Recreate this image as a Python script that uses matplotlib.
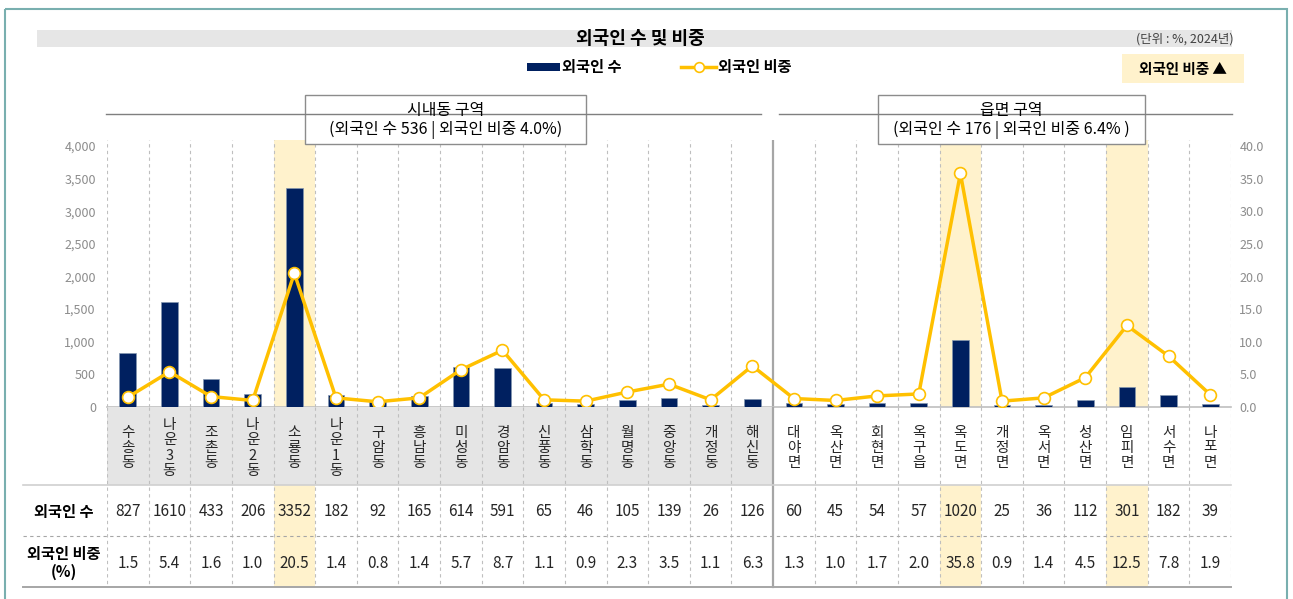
import matplotlib.pyplot as plt
from matplotlib.patches import Rectangle
from matplotlib.lines import Line2D
import numpy as np

plt.rcParams['font.family'] = ['Noto Sans CJK KR', 'DejaVu Sans']

# data
names = ['수송동', '나운3동', '조촌동', '나운2동', '소룡동', '나운1동', '구암동', '흥남동',
         '미성동', '경암동', '신풍동', '삼학동', '월명동', '중앙동', '개정동', '해신동',
         '대야면', '옥산면', '회현면', '옥구읍', '옥도면', '개정면', '옥서면', '성산면',
         '임피면', '서수면', '나포면']
counts = [827, 1610, 433, 206, 3352, 182, 92, 165, 614, 591, 65, 46, 105, 139, 26, 126,
          60, 45, 54, 57, 1020, 25, 36, 112, 301, 182, 39]
ratio = [1.5, 5.4, 1.6, 1.0, 20.5, 1.4, 0.8, 1.4, 5.7, 8.7, 1.1, 0.9, 2.3, 3.5, 1.1, 6.3,
         1.3, 1.0, 1.7, 2.0, 35.8, 0.9, 1.4, 4.5, 12.5, 7.8, 1.9]
highlight = ['소룡동', '옥도면', '임피면']
n_city = 16  # 시내동 count

NAVY = '#002060'
GOLD = '#FFC000'
HL = '#FFF2CC'
GRID = '#BFBFBF'

W, H = 1293, 599
fig = plt.figure(figsize=(W / 100, H / 100), dpi=100)


def fax(l, t, r, b):
    return fig.add_axes([l / W, 1 - b / H, (r - l) / W, (b - t) / H])


x = np.arange(len(names))
hl_idx = [names.index(h) for h in highlight]

# main plot
ax = fax(107, 140, 1231, 407)
for i in hl_idx:
    ax.axvspan(i - 0.5, i + 0.5, color=HL, zorder=0, lw=0)
for b in np.arange(-0.5, len(names), 1.0):
    if b == n_city - 0.5:
        ax.axvline(b, color='#A6A6A6', lw=1.6, zorder=1)
    else:
        ax.axvline(b, color=GRID, lw=0.8, ls=(0, (3, 3)), zorder=1)
ax.bar(x, counts, width=0.4, color=NAVY, edgecolor='#8497B0', linewidth=0.5, zorder=3)
ax.set_xlim(-0.5, len(names) - 0.5)
ax.set_ylim(0, 4000 * 267 / 261)
ax.set_yticks(range(0, 4001, 500))
ax.set_yticklabels([f'{v:,}' for v in range(0, 4001, 500)], color='#8C8C8C', fontsize=9)
ax.set_xticks([])
ax.tick_params(axis='y', length=0, pad=8)
for s in ['top', 'left', 'right']:
    ax.spines[s].set_visible(False)
ax.spines['bottom'].set_color(GRID)
ax.spines['bottom'].set_linewidth(1.2)

ax2 = ax.twinx()
ax2.plot(x, ratio, color=GOLD, lw=2.5, marker='o', markersize=8.5,
         markerfacecolor='white', markeredgecolor=GOLD, markeredgewidth=1.2, zorder=5)
ax2.set_ylim(0, 40 * 267 / 261)
ax2.set_yticks(np.arange(0, 40.1, 5))
ax2.set_yticklabels([f'{v:.1f}' for v in np.arange(0, 40.1, 5)], color='#8C8C8C', fontsize=9)
ax2.tick_params(axis='y', length=0, pad=6)
for s in ['top', 'left', 'right', 'bottom']:
    ax2.spines[s].set_visible(False)

# label + table area
tax = fax(107, 407, 1231, 590)
tax.set_xlim(-0.5, len(names) - 0.5)
tax.set_ylim(183, 0)
tax.axis('off')
left_x = -0.5 - 84 / 41.63
lab_x = -0.5 - 43 / 41.63
tax.add_patch(Rectangle((-0.5, 0), n_city, 78, color='#E5E5E5', lw=0, zorder=0))
for i in hl_idx:
    tax.add_patch(Rectangle((i - 0.5, 78), 1, 102, color=HL, lw=0, zorder=0))
for b in np.arange(-0.5, len(names), 1.0):
    if b == n_city - 0.5:
        tax.plot([b, b], [0, 180], color='#A6A6A6', lw=1.6, zorder=1)
    else:
        tax.plot([b, b], [0, 180], color=GRID, lw=0.8, ls=(0, (3, 3)), zorder=1)
tax.plot([left_x, len(names) - 0.5], [78, 78], color='#D0D0D0', lw=1.2, clip_on=False)
tax.plot([left_x, len(names) - 0.5], [129, 129], color='#A6A6A6', lw=0.8,
         ls=(0, (3, 3)), clip_on=False)
tax.plot([left_x, len(names) - 0.5], [180, 180], color='#A6A6A6', lw=1.4, clip_on=False)

for i, nm in enumerate(names):
    tax.text(i, 41, '\n'.join(nm), ha='center', va='center', fontsize=10.5,
             linespacing=1.12, color='#262626')
    tax.text(i, 105, str(counts[i]), ha='center', va='center', fontsize=11, color='#262626')
    tax.text(i, 156, f'{ratio[i]:.1f}', ha='center', va='center', fontsize=11, color='#262626')
tax.text(lab_x, 105, '외국인 수', ha='center', va='center', fontsize=11,
         fontweight='bold', clip_on=False)
tax.text(lab_x, 156, '외국인 비중\n(%)', ha='center', va='center', fontsize=11,
         fontweight='bold', linespacing=1.2, clip_on=False)

# overlay in pixel coordinates
ov = fig.add_axes([0, 0, 1, 1], zorder=10)
ov.set_xlim(0, W)
ov.set_ylim(H, 0)
ov.axis('off')
ov.patch.set_alpha(0)

ov.add_patch(Rectangle((5, 9), 1282, 640, fill=False, edgecolor='#79AFAF', lw=1.5))
ov.add_patch(Rectangle((37, 30), 1195, 17, color='#E6E6E6', lw=0))
ov.text(640, 38.5, '외국인 수 및 비중', ha='center', va='center', fontsize=13, fontweight='bold')
ov.text(1234, 39, '(단위 : %, 2024년)', ha='right', va='center', fontsize=9, color='#404040')

# legend
ov.add_patch(Rectangle((527, 63), 33, 8, color=NAVY, lw=0))
ov.text(562, 67, '외국인 수', ha='left', va='center', fontsize=11, fontweight='bold')
ov.add_line(Line2D([681, 716], [67, 67], color=GOLD, lw=2.5))
ov.plot([698.5], [67], marker='o', markersize=7, markerfacecolor='white',
        markeredgecolor=GOLD, markeredgewidth=1.2)
ov.text(718, 67, '외국인 비중', ha='left', va='center', fontsize=11, fontweight='bold')

ov.add_patch(Rectangle((1122, 54), 122, 29, color=HL, lw=0))
ov.text(1183, 69, '외국인 비중 ▲', ha='center', va='center', fontsize=10.5, fontweight='bold')

# group headers
ov.add_line(Line2D([106, 761], [114, 114], color='#7F7F7F', lw=1))
ov.add_line(Line2D([779, 1232], [114, 114], color='#7F7F7F', lw=1))
for (l, r, t1, t2) in [(305, 586, '시내동 구역', '(외국인 수 536 | 외국인 비중 4.0%)'),
                       (878, 1145, '읍면 구역', '(외국인 수 176 | 외국인 비중 6.4% )')]:
    ov.add_patch(Rectangle((l, 95), r - l, 49, facecolor='white', edgecolor='#8C8C8C', lw=1))
    ov.text((l + r) / 2, 110, t1, ha='center', va='center', fontsize=11.5)
    ov.text((l + r) / 2, 130, t2, ha='center', va='center', fontsize=11.5)

fig.savefig('out.png', dpi=100)
